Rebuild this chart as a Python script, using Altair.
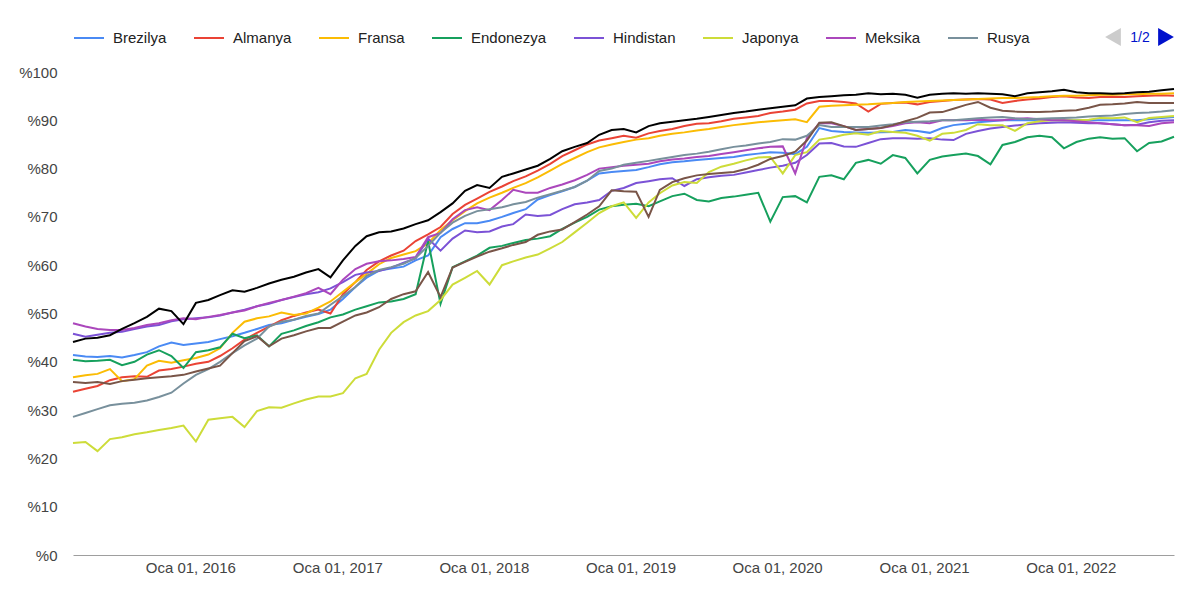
import altair as alt
import pandas as pd

# HTTPS ile yuklenen sayfa orani (%), aylik okuma, Mart 2015 - Eylul 2022
ulkeler = ["Brezilya", "Almanya", "Fransa", "Endonezya", "Hindistan",
           "Japonya", "Meksika", "Rusya", "Türkiye", "ABD"]
renkler = ["#4a8af4", "#ea4335", "#fbbc04", "#16a05d", "#7b52d6",
           "#cddc39", "#ab47bc", "#78909c", "#795548", "#000000"]

brezilya = [41.4, 41.1, 41.0, 41.2, 40.9, 41.4, 42.0, 43.2, 44.0, 43.5,
            43.8, 44.1, 44.7, 45.3, 46.0, 46.8, 47.6, 48.0, 48.7, 49.3,
            49.9, 50.8, 53.0, 55.5, 57.4, 58.9, 59.3, 59.7, 61.0, 62.0,
            65.8, 67.5, 68.7, 68.7, 69.2, 70.0, 70.8, 71.6, 73.6, 74.5,
            75.3, 76.2, 77.5, 79.0, 79.3, 79.5, 79.7, 80.3, 80.9, 81.3,
            81.5, 81.8, 82.0, 82.2, 82.4, 82.8, 83.1, 83.4, 83.3, 83.0,
            84.5, 88.4, 87.8, 87.6, 87.5, 87.4, 87.5, 87.6, 88.0, 87.8,
            87.4, 88.4, 89.0, 89.3, 89.6, 89.8, 90.0, 90.0, 90.0, 90.0,
            90.0, 90.0, 90.0, 90.0, 90.0, 90.0, 90.0, 90.0, 90.2, 90.5,
            90.7]
almanya = [33.8, 34.4, 35.0, 36.2, 36.8, 37.0, 36.9, 38.2, 38.5, 39.0,
           39.6, 40.0, 41.2, 42.8, 44.6, 46.0, 47.3, 48.6, 49.5, 50.2,
           50.8, 50.0, 54.0, 56.5, 59.0, 60.8, 62.0, 63.0, 65.0, 66.4,
           67.9, 70.6, 72.5, 73.8, 75.2, 76.3, 77.4, 78.4, 79.6, 81.0,
           82.6, 83.8, 85.0, 85.8, 86.3, 86.8, 86.4, 87.3, 87.8, 88.2,
           88.8, 89.3, 89.4, 89.8, 90.3, 90.6, 90.9, 91.5, 91.8, 92.2,
           93.5, 94.0, 94.0, 93.8, 93.5, 91.8, 93.4, 93.6, 93.7, 93.3,
           93.8, 94.0, 94.2, 94.3, 94.4, 94.3, 93.6, 94.0, 94.3, 94.5,
           94.8, 95.0, 94.7, 94.6, 94.8, 94.9, 94.8, 95.0, 95.1, 95.2,
           95.1]
fransa = [36.8, 37.2, 37.5, 38.5, 36.0, 36.4, 39.2, 40.2, 39.8, 40.3,
          40.8, 41.5, 42.8, 46.0, 48.3, 49.0, 49.4, 50.2, 49.7, 50.0,
          51.2, 52.5, 54.5, 56.5, 58.2, 60.2, 61.5, 62.2, 62.9, 64.5,
          67.3, 69.3, 71.2, 72.8, 74.0, 75.0, 76.0, 77.0, 78.2, 79.6,
          81.0, 82.2, 83.4, 84.4, 85.0, 85.5, 86.0, 86.3, 86.8, 87.2,
          87.5, 87.9, 88.2, 88.6, 89.0, 89.3, 89.6, 89.8, 90.0, 90.2,
          89.6, 92.8, 93.0, 93.1, 93.2, 93.3, 93.5, 93.6, 93.8, 93.9,
          94.0, 94.1, 94.2, 94.3, 94.4, 94.5, 94.6, 94.6, 94.7, 94.8,
          95.0, 95.1, 95.1, 95.2, 95.3, 95.3, 95.4, 95.4, 95.5, 95.5,
          95.6]
endonezya = [40.4, 40.1, 40.2, 40.4, 39.3, 40.0, 41.5, 42.4, 41.2, 38.7,
             42.0, 42.4, 43.0, 45.8, 44.9, 45.5, 43.2, 45.8, 46.5, 47.4,
             48.2, 49.2, 49.8, 50.8, 51.5, 52.3, 52.5, 53.0, 54.0, 65.0,
             52.0, 59.6, 60.8, 62.0, 63.6, 64.0, 64.6, 65.2, 65.5, 66.0,
             67.5, 68.8, 70.0, 71.5, 72.2, 72.5, 72.7, 72.2, 73.2, 74.3,
             74.8, 73.5, 73.2, 73.9, 74.2, 74.6, 75.0, 69.0, 74.1, 74.3,
             73.0, 78.3, 78.6, 77.8, 81.2, 81.8, 81.0, 82.8, 82.2, 79.0,
             81.8, 82.5, 82.8, 83.1, 82.6, 80.9, 84.9, 85.5, 86.5, 86.8,
             86.5, 84.2, 85.5, 86.2, 86.5, 86.2, 86.3, 83.6, 85.3, 85.6,
             86.6]
hindistan = [45.8, 45.2, 45.6, 46.0, 46.2, 46.8, 47.3, 47.6, 48.4, 48.8,
             49.0, 49.2, 49.6, 50.2, 50.8, 51.5, 52.0, 52.8, 53.4, 54.0,
             54.4, 55.2, 56.5, 58.0, 58.5, 58.8, 59.5, 60.5, 61.4, 65.5,
             63.0, 65.5, 67.2, 66.8, 67.0, 68.0, 68.5, 70.5, 70.2, 70.4,
             71.6, 72.6, 73.0, 73.5, 75.4, 76.0, 77.0, 77.4, 77.8, 78.0,
             76.4, 77.8, 78.2, 78.5, 78.7, 79.2, 79.7, 80.2, 80.6, 81.2,
             82.8, 85.2, 85.3, 84.6, 84.5, 85.3, 86.1, 86.3, 86.3, 86.2,
             86.3, 86.0, 85.9, 87.2, 87.8, 88.3, 88.6, 88.9, 89.2, 89.4,
             89.5, 89.6, 89.5, 89.4, 89.4, 89.2, 89.0, 89.1, 89.6, 89.9,
             90.0]
japonya = [23.2, 23.4, 21.5, 24.0, 24.4, 25.0, 25.4, 25.9, 26.3, 26.8,
           23.5, 28.0, 28.3, 28.6, 26.5, 29.8, 30.6, 30.5, 31.4, 32.2,
           32.8, 32.8, 33.5, 36.6, 37.5, 42.5, 46.0, 48.2, 49.6, 50.5,
           52.8, 56.0, 57.4, 58.8, 56.0, 60.0, 60.8, 61.6, 62.2, 63.5,
           64.8, 66.8, 68.8, 70.8, 72.2, 73.0, 69.8, 73.0, 74.9, 76.5,
           77.2, 77.0, 79.3, 80.4, 81.0, 81.7, 82.3, 82.4, 79.0, 82.8,
           83.4, 86.0, 86.4, 87.0, 87.3, 87.0, 87.8, 87.6, 87.4, 86.8,
           85.8, 87.2, 87.4, 88.0, 89.2, 89.0, 89.0, 87.8, 89.4, 89.8,
           90.0, 90.0, 90.0, 90.1, 90.5, 90.4, 90.6, 89.6, 90.5, 90.7,
           90.9]
meksika = [48.0, 47.3, 46.8, 46.6, 46.6, 47.0, 47.6, 48.0, 48.6, 49.0,
           48.8, 49.3, 49.7, 50.2, 50.6, 51.5, 52.2, 52.8, 53.5, 54.2,
           55.3, 54.0, 57.0, 59.2, 60.3, 60.8, 61.0, 61.3, 61.7, 65.8,
           66.7, 69.5, 71.4, 72.0, 71.4, 73.5, 75.6, 75.0, 75.0, 76.0,
           76.7, 77.6, 78.7, 80.0, 80.3, 80.6, 80.8, 81.0, 81.5, 81.9,
           82.1, 82.4, 82.6, 83.0, 83.4, 83.8, 84.2, 84.5, 84.6, 79.0,
           86.3, 89.4, 89.4, 88.8, 88.0, 88.2, 88.4, 88.8, 89.4, 89.6,
           89.4, 90.0, 90.0, 90.0, 90.1, 90.0, 90.0, 90.3, 90.4, 90.2,
           90.0, 90.0, 89.8, 89.6, 89.4, 89.2, 89.0, 89.0, 88.8, 89.4,
           89.6]
rusya = [28.6, 29.4, 30.2, 31.0, 31.3, 31.5, 32.0, 32.7, 33.6, 35.5,
         37.3, 38.5, 40.0, 41.8, 43.4, 44.8, 47.3, 48.3, 48.7, 49.5,
         50.0, 51.8, 53.6, 55.5, 57.8, 59.0, 59.6, 60.3, 61.5, 64.0,
         66.7, 68.8, 70.2, 71.2, 71.6, 72.0, 72.6, 73.1, 74.0, 74.7,
         75.4, 76.2, 77.5, 79.5, 80.0, 80.8, 81.2, 81.6, 82.0, 82.4,
         82.8, 83.1, 83.5, 84.0, 84.5, 84.8, 85.2, 85.5, 86.1, 86.0,
         86.8, 89.0, 88.6, 88.6, 88.6, 88.6, 88.9, 89.2, 89.6, 89.7,
         89.8, 90.0, 90.0, 90.2, 90.4, 90.6, 90.7, 90.4, 90.2, 90.3,
         90.4, 90.5, 90.6, 90.8, 90.9, 91.0, 91.3, 91.5, 91.6, 91.8,
         92.1]
turkiye = [35.8, 35.6, 35.8, 35.4, 36.0, 36.3, 36.6, 36.8, 37.0, 37.3,
           38.0, 38.6, 39.2, 41.8, 44.3, 45.3, 43.2, 44.8, 45.5, 46.3,
           47.0, 47.0, 48.3, 49.6, 50.2, 51.3, 53.0, 54.0, 54.6, 58.6,
           53.4, 59.5, 60.7, 61.8, 62.8, 63.5, 64.2, 64.8, 66.3, 67.0,
           67.4, 68.9, 70.5, 72.2, 75.5, 75.3, 75.2, 70.0, 75.6, 77.2,
           78.0, 78.6, 78.9, 79.1, 79.3, 79.9, 80.8, 82.0, 82.6, 83.5,
           85.8, 89.5, 89.6, 88.8, 88.0, 88.2, 88.4, 89.0, 89.8, 90.5,
           91.6, 91.7, 92.4, 93.2, 93.8, 92.6, 92.0, 91.8, 91.7, 91.7,
           91.8, 92.0, 92.1, 92.6, 93.2, 93.3, 93.5, 93.8, 93.6, 93.6,
           93.6]
abd = [44.1, 44.8, 45.0, 45.5, 46.8, 48.0, 49.3, 51.0, 50.5, 47.8,
       52.2, 52.8, 53.8, 54.8, 54.5, 55.3, 56.2, 57.0, 57.6, 58.5,
       59.2, 57.5, 61.0, 64.0, 66.0, 66.8, 67.0, 67.6, 68.5, 69.3,
       71.0, 72.8, 75.4, 76.6, 76.0, 78.3, 79.0, 79.8, 80.6, 82.0,
       83.6, 84.5, 85.3, 87.0, 88.0, 88.2, 87.5, 88.8, 89.4, 89.7,
       90.0, 90.3, 90.7, 91.1, 91.5, 91.8, 92.2, 92.5, 92.8, 93.1,
       94.5, 94.8, 95.0, 95.2, 95.3, 95.6, 95.4, 95.5, 95.3, 94.7,
       95.3, 95.5, 95.6, 95.5, 95.6, 95.5, 95.4, 95.0, 95.6, 95.8,
       96.0, 96.3, 95.8, 95.6, 95.6, 95.5, 95.6, 95.8, 95.9, 96.2,
       96.5]

seriler = [brezilya, almanya, fransa, endonezya, hindistan,
           japonya, meksika, rusya, turkiye, abd]
yillar = [2016, 2017, 2018, 2019, 2020, 2021, 2022]
sayfa_etiketi = ["1/2"]

tarihler = [pd.Timestamp(2015, 3, 15) + pd.DateOffset(months=i) for i in range(len(abd))]

rows = []
for ad, seri in zip(ulkeler, seriler):
    for t, v in zip(tarihler, seri):
        rows.append({"tarih": t, "ulke": ad, "oran": v})
df = pd.DataFrame(rows)

FONT = "Arial, Liberation Sans, sans-serif"

lines = alt.Chart(df).mark_line(strokeWidth=2).encode(
    x=alt.X("tarih:T", title=None,
            scale=alt.Scale(domain=[alt.DateTime(year=2015, month=3, date=15),
                                    alt.DateTime(year=2022, month=9, date=15)]),
            axis=alt.Axis(values=[alt.DateTime(year=y, month=1, date=1) for y in yillar],
                          labelExpr="'Oca ' + timeFormat(datum.value, '%d, %Y')",
                          grid=False, ticks=False, domainColor="#9e9e9e",
                          labelPadding=5, labelFontSize=15, labelColor="#444444",
                          labelFont=FONT)),
    y=alt.Y("oran:Q", title=None,
            scale=alt.Scale(domain=[0, 100], nice=False),
            axis=alt.Axis(values=list(range(0, 101, 10)),
                          labelExpr="'%' + datum.value",
                          grid=False, ticks=False, domain=False,
                          labelPadding=16, labelFontSize=15, labelColor="#444444",
                          labelFont=FONT)),
    color=alt.Color("ulke:N", sort=ulkeler,
                    scale=alt.Scale(domain=ulkeler, range=renkler),
                    legend=alt.Legend(values=ulkeler[:8], orient="none",
                                      legendX=0, legendY=-50,
                                      direction="horizontal", title=None,
                                      symbolType="stroke", symbolSize=900,
                                      symbolStrokeWidth=2, labelFontSize=15,
                                      labelFont=FONT, labelColor="#222222",
                                      labelOffset=8, columnPadding=23,
                                      labelLimit=0)),
)

pager = pd.DataFrame({"etiket": sayfa_etiketi})
sol = alt.Chart(pager).mark_point(shape="triangle-left", filled=True, size=330,
                                  color="#cccccc", opacity=1).encode(
    x=alt.value(1040), y=alt.value(-35))
sayfa = alt.Chart(pager).mark_text(font=FONT, fontSize=14, color="#0011cc").encode(
    x=alt.value(1067), y=alt.value(-34), text="etiket:N")
sag = alt.Chart(pager).mark_point(shape="triangle-right", filled=True, size=330,
                                  color="#0011cc", opacity=1).encode(
    x=alt.value(1093), y=alt.value(-35))

chart = alt.layer(lines, sol, sayfa, sag).properties(
    width=1101, height=483,
    autosize=alt.AutoSizeParams(type="none"),
    padding={"left": 65, "top": 64, "right": 10, "bottom": 30},
).configure_view(stroke=None)

chart.save("out.html", embed_options={"renderer": "svg", "actions": False})
